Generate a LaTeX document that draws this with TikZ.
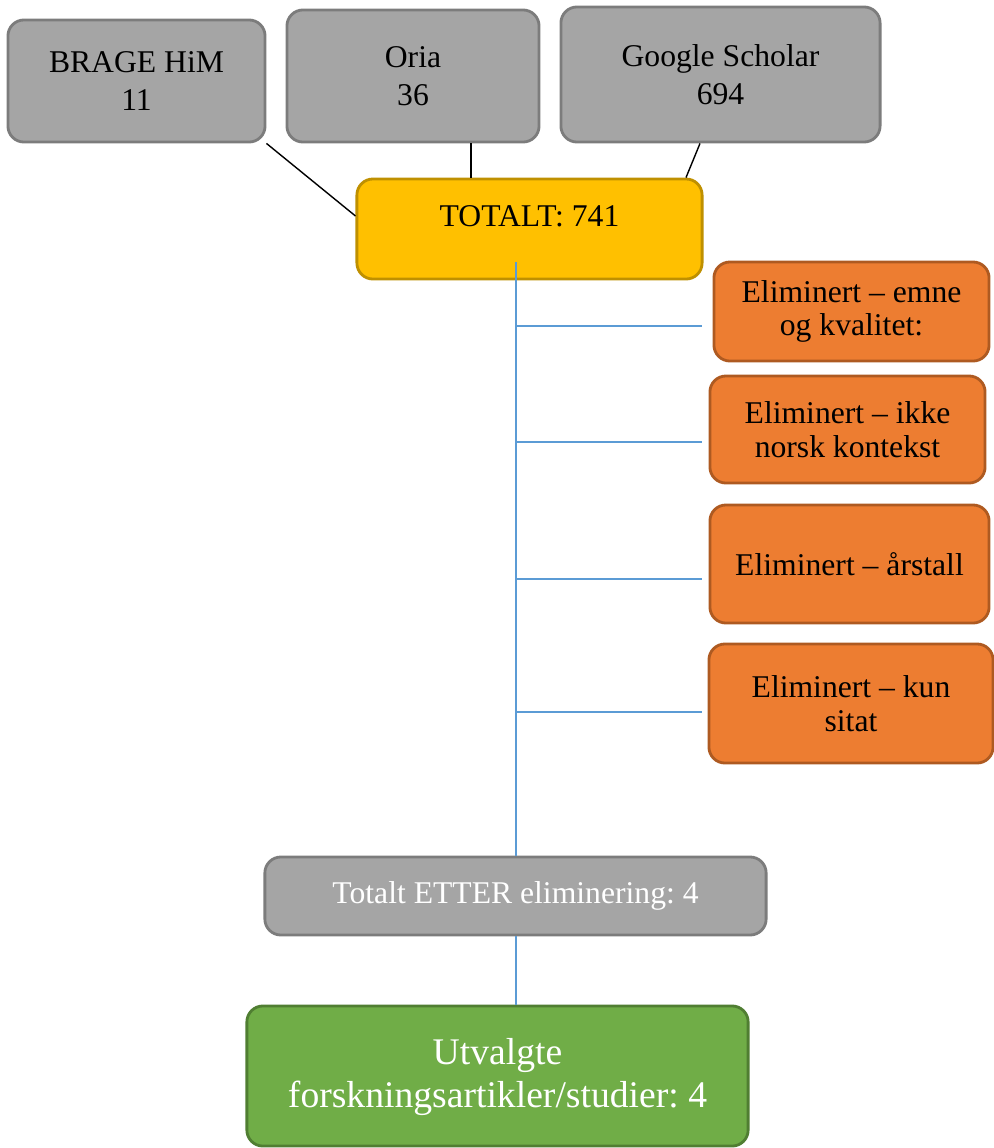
\documentclass[tikz,border=0pt]{standalone}
\usepackage{fontspec}
\setmainfont{Liberation Serif}
\frenchspacing
\usetikzlibrary{calc}
\definecolor{grayfill}{HTML}{A5A5A5}
\definecolor{graydraw}{HTML}{7C7C7C}
\definecolor{yelfill}{HTML}{FFC000}
\definecolor{yeldraw}{HTML}{BF9000}
\definecolor{orfill}{HTML}{ED7D31}
\definecolor{ordraw}{HTML}{AE5A21}
\definecolor{grfill}{HTML}{70AD47}
\definecolor{grdraw}{HTML}{507E32}
\definecolor{bluel}{HTML}{5B9BD5}
\tikzset{
  basebox/.style={rectangle, rounded corners=0.16cm, line width=0.8pt, align=center, inner sep=0pt,
    font=\fontsize{9}{9.6}\selectfont},
  graybox/.style={basebox, fill=grayfill, draw=graydraw},
  topbox/.style={graybox, font=\fontsize{9}{10.8}\selectfont},
  yelbox/.style={basebox, fill=yelfill, draw=yeldraw},
  orbox/.style={basebox, fill=orfill, draw=ordraw},
  grbox/.style={basebox, fill=grfill, draw=grdraw, text=white, font=\fontsize{10.7}{12.2}\selectfont},
  blackline/.style={line width=0.4pt, black},
  blueline/.style={line width=0.45pt, bluel},
}
\begin{document}
\begin{tikzpicture}[x=0.01cm, y=-0.01cm]
\useasboundingbox (0,0) rectangle (994,1148);
% sources
\node[topbox, minimum width=2.57cm, minimum height=1.22cm] (brage) at (136.5,81) {BRAGE HiM\\11};
\node[topbox, minimum width=2.52cm, minimum height=1.32cm] (oria) at (413,76) {Oria\\36};
\node[topbox, minimum width=3.19cm, minimum height=1.35cm] (gs) at (720.5,74.5) {Google Scholar\\694};
% total
\node[yelbox, minimum width=3.45cm, minimum height=1.00cm] (tot) at (529.5,229) {};
\node[font=\fontsize{9}{9.6}\selectfont, inner sep=0pt] (totlabel) at (529.5,216) {TOTALT: 741};
% eliminated
\node[orbox, minimum width=2.75cm, minimum height=0.99cm] (e1) at (851.5,311.5) {Eliminert -- emne\\og kvalitet:};
\node[orbox, minimum width=2.75cm, minimum height=1.07cm] (e2) at (847.5,429.5) {Eliminert -- ikke\\norsk kontekst};
\node[orbox, minimum width=2.79cm, minimum height=1.18cm] (e3) at (849.5,564) {Eliminert -- årstall};
\node[orbox, minimum width=2.84cm, minimum height=1.19cm] (e4) at (851,703.5) {Eliminert -- kun\\sitat};
% after
\node[graybox, text=white, minimum width=5.01cm, minimum height=0.78cm] (after) at (515.5,896) {Totalt ETTER eliminering: 4};
\node[grbox, minimum width=5.01cm, minimum height=1.40cm] (sel) at (497.5,1076) {\raisebox{-3pt}[0pt][0pt]{\parbox{5cm}{\centering Utvalgte\\forskningsartikler/studier: 4}}};
% black connectors
\draw[blackline] (brage.south east) -- ($(tot.west)+(0,-13)$);
\coordinate (o1) at ($(oria.south)+(58,0)$);
\draw[blackline] (o1) -- (o1 |- tot.north);
\draw[blackline] ($(gs.south)+(-20.5,0)$) -- ($(tot.north)+(156.5,0)$);
% blue spine
\coordinate (sp) at (516,262);
\draw[blueline] (sp) -- (sp |- after.north);
\draw[blueline] (after.south -| sp) -- (sel.north -| sp);
\coordinate (b1) at (702,326);
\coordinate (b2) at (702,442);
\coordinate (b3) at (702,579);
\coordinate (b4) at (702,712);
\draw[blueline] (b1 -| sp) -- (b1);
\draw[blueline] (b2 -| sp) -- (b2);
\draw[blueline] (b3 -| sp) -- (b3);
\draw[blueline] (b4 -| sp) -- (b4);
\end{tikzpicture}
\end{document}
